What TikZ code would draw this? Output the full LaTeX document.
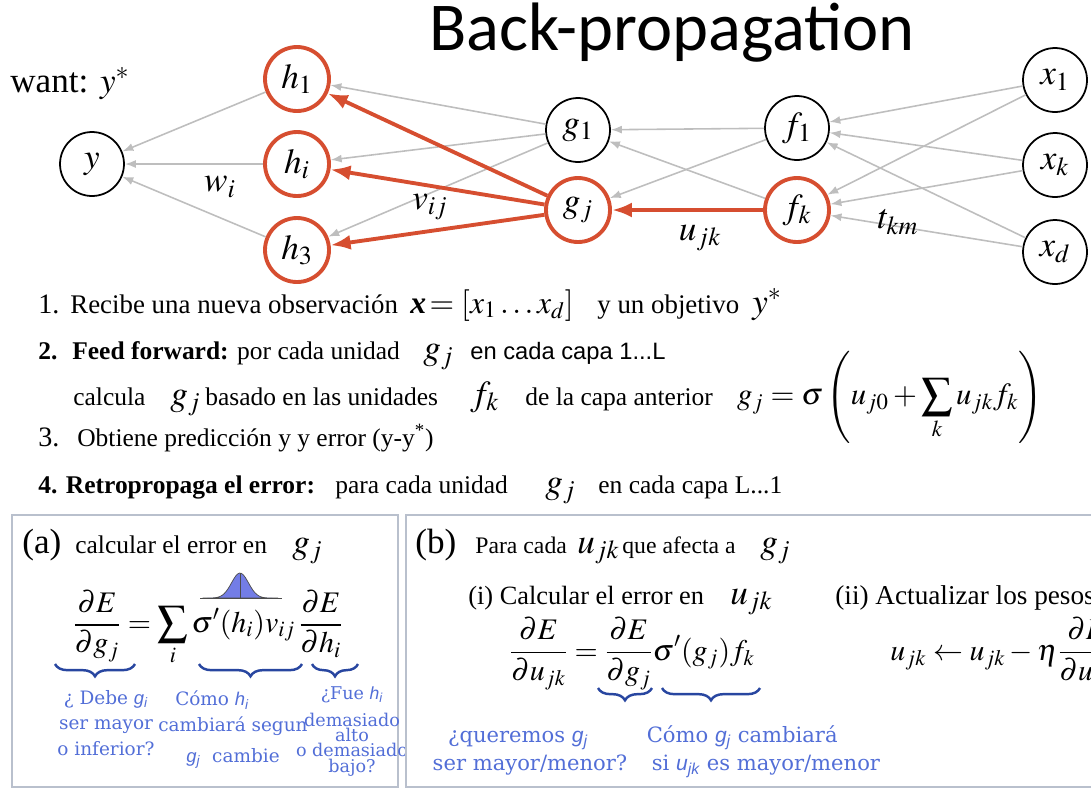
\documentclass[tikz,border=0pt]{standalone}
\usepackage{amsmath}
\usepackage{mathptmx}
\usepackage{fontspec}
\setmainfont{Liberation Serif}
\newfontfamily\titlefont{Carlito}
\newfontfamily\annfont{DejaVu Serif}
\newfontfamily\annsans{Liberation Sans}
\usetikzlibrary{arrows.meta,decorations.pathreplacing,positioning}
\definecolor{bpRed}{RGB}{214,78,48}
\definecolor{bpGray}{RGB}{190,190,190}
\definecolor{bpBlue}{RGB}{82,110,215}
\definecolor{bpBrace}{RGB}{40,70,160}
\definecolor{bpFrame}{RGB}{185,192,205}
\definecolor{bpBell}{RGB}{115,125,230}
\newcommand{\sv}[2]{{\annsans\itshape #1\textsubscript{#2}}}

\begin{document}
\begin{tikzpicture}[
			x=0.02cm, y=-0.02cm,
			unit/.style={circle, draw=black, line width=1pt, minimum size=1.28cm,
				inner sep=0pt, font=\fontsize{20}{22}\selectfont},
			hot/.style={unit, draw=bpRed, line width=2.2pt},
			wire/.style={-{Latex[length=2.2mm,width=1.6mm]}, bpGray, line width=0.9pt},
			backwire/.style={-{Latex[length=4mm,width=3mm]}, bpRed, line width=2.2pt},
			lbl/.style={inner sep=0pt, font=\fontsize{20}{22}\selectfont},
			txt/.style={anchor=base west, inner sep=0pt, font=\fontsize{14.5}{17}\selectfont},
			big/.style={txt, font=\fontsize{20}{22}\selectfont},
			eq/.style={inner sep=0pt, font=\fontsize{17}{20}\selectfont},
			ann/.style={anchor=base, inner sep=0pt, align=center, text=bpBlue,
				font=\annfont\fontsize{10.5}{14.5}\selectfont},
			annb/.style={ann, font=\annfont\fontsize{12}{15.5}\selectfont},
			frame/.style={draw=bpFrame, line width=1.2pt},
			brace/.style={decorate, decoration={brace, mirror, amplitude=7pt}, bpBrace, line width=1.4pt}
			]
			\clip (0,0) rectangle (1091,789);
			% network
			\node[unit] (y) at (92,164) {$y$};
			\node[hot] (h1) at (297,79) {$h_1$};
			\node[hot] (hi) at (297,164) {$h_i$};
			\node[hot] (h3) at (297,250) {$h_3$};
			\node[unit] (g1) at (578,130) {$g_1$};
			\node[hot] (gj) at (578,210) {$g_j$};
			\node[unit] (f1) at (797,128) {$f_1$};
			\node[hot] (fk) at (797,210) {$f_k$};
			\node[unit] (x1) at (1055,80) {$x_1$};
			\node[unit] (xk) at (1055,165) {$x_k$};
			\node[unit] (xd) at (1055,252) {$x_d$};
			\foreach \s in {h1,hi,h3} \draw[wire] (\s) -- (y);
			\foreach \t in {h1,hi,h3} \draw[wire] (g1) -- (\t);
			\foreach \t in {h1,hi,h3} \draw[backwire] (gj) -- (\t);
			\draw[wire] (f1) -- (g1);
			\draw[wire] (f1) -- (gj);
			\draw[wire] (fk) -- (g1);
			\draw[backwire] (fk) -- (gj);
			\foreach \s in {x1,xk,xd} {
				\draw[wire] (\s) -- (f1);
				\draw[wire] (\s) -- (fk);
			}
			\node[big] (want) at (10,92) {want: $y^*$};
			\node[lbl] (wi) at (220,187) {$w_i$};
			\node[lbl] (vij) at (430,207) {$v_{ij}$};
			\node[lbl] (ujk) at (700,238) {$u_{jk}$};
			\node[lbl] (tkm) at (898,222) {$t_{km}$};
			\node[inner sep=0pt, font=\titlefont\fontsize{39}{42}\selectfont] (title) at (672,33) {Back-propagation};
			% steps
			\node[txt, font=\fontsize{16}{18}\selectfont] (s1) at (38,313) {1.};
			\node[txt, font=\fontsize{15.3}{18}\selectfont] (s1a) at (70,313) {Recibe una nueva observación};
			\node[txt, font=\fontsize{18}{20}\selectfont] (s1b) at (410,313) {{\bfseries\itshape x}$\,=[x_1\ldots x_d]$};
			\node[txt, font=\fontsize{15.3}{18}\selectfont] (s1c) at (597,313) {y un objetivo};
			\node[big] (s1d) at (752,313) {$y^*$};
			\node[txt] (s2) at (38,359) {\textbf{2.}};
			\node[txt] (s2a) at (72,359) {\textbf{Feed forward:} por cada unidad};
			\node[big] (s2b) at (423,359) {$g_j$};
			\node[txt, font=\annsans\fontsize{13.5}{16}\selectfont] (s2c) at (470,359) {en cada capa 1...L};
			\node[txt] (s2d) at (73,405) {calcula};
			\node[big] (s2e) at (170,405) {$g_j$};
			\node[txt] (s2f) at (205,405) {basado en las unidades};
			\node[big] (s2g) at (470,405) {$f_k$};
			\node[txt] (s2h) at (525,405) {de la capa anterior};
			\node[eq, font=\fontsize{17.5}{20}\selectfont] (gsum) at (890,397) {$\displaystyle g_j=\sigma\left(u_{j0}+\sum_k u_{jk}f_k\right)$};
			\node[txt, font=\fontsize{16}{18}\selectfont] (s3) at (38,446) {3.};
			\node[txt] (s3a) at (77,446) {Obtiene predicción y y error (y-y\textsuperscript{*})};
			\node[txt] (s4) at (38,493) {\textbf{4. Retropropaga el error:}};
			\node[txt] (s4a) at (335,493) {para cada unidad};
			\node[big] (s4b) at (545,493) {$g_j$};
			\node[txt] (s4c) at (598,493) {en cada capa L...1};
			% box (a)
			\draw[frame] (12,515) rectangle (398,787);
			\node[big] (pa) at (22,553) {(a)};
			\node[txt] (pa1) at (75,553) {calcular el error en};
			\node[big] (pa2) at (292,553) {$g_j$};
			\node[eq] (erra) at (208,628) {$\displaystyle \frac{\partial E}{\partial g_j}=\sum_i \sigma'(h_i)v_{ij}\,\frac{\partial E}{\partial h_i}$};
			\draw[fill=bpBell, draw=black!70] (203,598) -- plot[domain=203:278, samples=40] (\x,{598-25*exp(-((\x-240)/12)^2)}) -- cycle;
			\draw[black!70] (240,573) -- (240,598);
			\draw[black!70] (200,598) -- (282,598);
			\draw[brace] (55,664) -- (135,664);
			\draw[brace] (199,664) -- (302,664);
			\draw[brace] (312,664) -- (358,664);
			\node[ann] (qa) at (106,755) {¿ Debe \sv{g}{i}\\ser mayor\\o inferior?};
			\node[ann] (qb) at (233,762) {Cómo \sv{h}{i}\phantom{xxxx}\\cambiará segun\\[3pt]\sv{g}{j}\ \ cambie};
			\node[ann, font=\annfont\fontsize{10}{8.6}\selectfont] (qc) at (352,772) {¿Fue \sv{h}{i}\\[5pt]demasiado\\alto\\o demasiado\\bajo?};
			% box (b)
			\draw[frame] (406,515) rectangle (1100,787);
			\node[big] (pb) at (415,553) {(b)};
			\node[txt, font=\fontsize{13.5}{16}\selectfont] (pb1) at (475,553) {Para cada};
			\node[big] (pb2) at (577,553) {$u_{jk}$};
			\node[txt, font=\fontsize{13.5}{16}\selectfont] (pb3) at (622,553) {que afecta a};
			\node[big] (pb4) at (760,553) {$g_j$};
			\node[txt, font=\fontsize{15}{18}\selectfont] (pi) at (468,604) {(i) Calcular el error en};
			\node[big] (pi1) at (730,604) {$u_{jk}$};
			\node[txt, font=\fontsize{15.5}{19}\selectfont] (pii) at (835,604) {(ii) Actualizar los pesos};
			\node[eq] (errb) at (632,654) {$\displaystyle \frac{\partial E}{\partial u_{jk}}=\frac{\partial E}{\partial g_j}\sigma'(g_j)f_k$};
			\node[eq, anchor=west] (upd) at (890,654) {$\displaystyle u_{jk}\leftarrow u_{jk}-\eta\frac{\partial E}{\partial u_{jk}}$};
			\draw[brace] (598,688) -- (652,688);
			\draw[brace] (662,688) -- (760,688);
			\node[annb] (qd) at (530,770) {¿queremos \sv{g}{j}\phantom{xx}\\ser mayor/menor?};
			\node[annb] (qe) at (766,770) {Cómo \sv{g}{j} cambiará\phantom{xxxx}\\si \sv{u}{jk} es mayor/menor};
		\end{tikzpicture}
\end{document}
